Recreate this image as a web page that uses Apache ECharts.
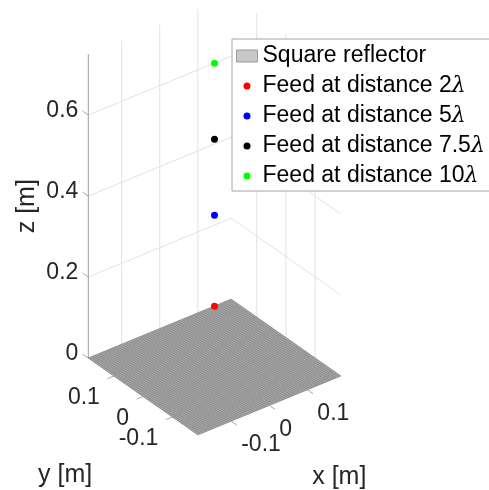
<!DOCTYPE html>
<html><head><meta charset="utf-8">
<script src="https://cdn.jsdelivr.net/npm/echarts@6/dist/echarts.min.js"></script>
<style>html,body{margin:0;padding:0;background:#fff}#c{width:489px;height:490px}</style>
</head><body><div id="c"></div>
<script>
// ---------------- data ----------------
const reflectorName = 'Square reflector';
const reflectorSide = 0.375;            // m (5 wavelengths at 4 GHz)
const xTicks = [-0.1, 0, 0.1];
const yTicks = [-0.1, 0, 0.1];
const zTicks = [0, 0.2, 0.4, 0.6];
const xTickLabels = ['-0.1', '0', '0.1'];
const yTickLabels = ['-0.1', '0', '0.1'];
const zTickLabels = ['0', '0.2', '0.4', '0.6'];
const zLimits = [0, 0.75];
const feedNames = ['Feed at distance 2λ', 'Feed at distance 5λ', 'Feed at distance 7.5λ', 'Feed at distance 10λ'];
const feedX = [0, 0, 0, 0];
const feedY = [0, 0, 0, 0];
const feedZ = [0.15, 0.375, 0.5625, 0.75];
const feedColors = ['#ff0000', '#0000ff', '#000000', '#00ff00'];
const axisTitles = ['x [m]', 'y [m]', 'z [m]'];

// ---------------- view / projection (layout) ----------------
const half = reflectorSide / 2;
const view = { az: -37.5, el: 32.5, cx: 214.5, cy: 367, S: 90, H: 303.75 };
const W = 489, Hh = 490;
function proj(x, y, z) {
  const u = x / half, v = y / half, w = (z - zLimits[0]) / (zLimits[1] - zLimits[0]);
  const a = view.az * Math.PI / 180, e = view.el * Math.PI / 180;
  const X = view.cx + view.S * (u * Math.cos(a) + v * Math.sin(a));
  const Y = view.cy - view.S * Math.sin(e) * (-u * Math.sin(a) + v * Math.cos(a)) - view.H * w;
  return [X, Y];
}
function dir(p0, p1) {
  const dx = p1[0] - p0[0], dy = p1[1] - p0[1], L = Math.hypot(dx, dy);
  return [dx / L, dy / L];
}
const FONT = 'Liberation Sans, Arial, Helvetica, sans-serif';
const tickColor = '#262626';

function renderScene(params, api) {
  const P = (x, y, z) => api.coord(proj(x, y, z));
  const z0 = zLimits[0], z1 = zLimits[1];
  const kids = [];
  const line = (a, b, style) => kids.push({ type: 'line', shape: { x1: a[0], y1: a[1], x2: b[0], y2: b[1] }, style: style, silent: true });
  const grid = { stroke: '#e2e2e2', lineWidth: 1 };
  // back wall y = +half
  xTicks.forEach(x => line(P(x, half, z0), P(x, half, z1), grid));
  zTicks.forEach(z => { if (z > z0) line(P(-half, half, z), P(half, half, z), grid); });
  // back wall x = +half
  yTicks.forEach(y => line(P(half, y, z0), P(half, y, z1), grid));
  zTicks.forEach(z => { if (z > z0) line(P(half, -half, z), P(half, half, z), grid); });
  // z axis line
  const axStyle = { stroke: '#9a9a9a', lineWidth: 1 };
  line(P(-half, half, z0), P(-half, half, z1), axStyle);
  // reflector plate
  const corners = [P(-half, -half, 0), P(half, -half, 0), P(half, half, 0), P(-half, half, 0)];
  kids.push({ type: 'polygon', shape: { points: corners }, style: { fill: '#b2b2b2', stroke: '#8a8a8a', lineWidth: 0.5 }, silent: true });
  const n = 64;
  const mesh = { stroke: '#727272', lineWidth: 0.45 };
  for (let i = 0; i <= n; i++) {
    const t = -half + reflectorSide * i / n;
    line(P(t, -half, 0), P(t, half, 0), mesh);
    line(P(-half, t, 0), P(half, t, 0), mesh);
  }
  // ticks
  const tickLen = 7;
  const dz = dir(P(-half, half, 0), P(-half, -half, 0)).map(v => -v); // +y direction
  const dxT = dir(P(-half, half, 0), P(-half, -half, 0));             // -y direction (toward viewer)
  const dyT = dir(P(half, -half, 0), P(-half, -half, 0));             // -x direction
  const tickStyle = { stroke: '#a8a8a8', lineWidth: 1 };
  const tf = '23px ' + FONT;
  zTicks.forEach((z, i) => {
    const b = P(-half, half, z);
    line(b, [b[0] + dz[0] * tickLen, b[1] + dz[1] * tickLen], tickStyle);
    kids.push({ type: 'text', x: b[0] - 10, y: b[1] - 4.5, silent: true,
      style: { text: zTickLabels[i], fill: tickColor, font: tf, align: 'right', verticalAlign: 'middle' } });
  });
  xTicks.forEach((x, i) => {
    const b = P(x, -half, 0);
    line(b, [b[0] + dxT[0] * tickLen, b[1] + dxT[1] * tickLen], tickStyle);
    kids.push({ type: 'text', x: b[0] + 10, y: b[1] + 24, silent: true,
      style: { text: xTickLabels[i], fill: tickColor, font: tf, align: 'left', verticalAlign: 'middle' } });
  });
  yTicks.forEach((y, i) => {
    const b = P(-half, y, 0);
    line(b, [b[0] + dyT[0] * tickLen, b[1] + dyT[1] * tickLen], tickStyle);
    kids.push({ type: 'text', x: b[0] - 14, y: b[1] + 22, silent: true,
      style: { text: yTickLabels[i], fill: tickColor, font: tf, align: 'right', verticalAlign: 'middle' } });
  });
  // axis titles
  const af = '25px ' + FONT;
  const xm = P(0, -half, 0), ym = P(-half, 0, 0), zm = P(-half, half, (z0 + z1) / 2);
  kids.push({ type: 'text', x: xm[0] + 70, y: xm[1] + 72, silent: true,
    style: { text: axisTitles[0], fill: tickColor, font: af, align: 'center', verticalAlign: 'middle' } });
  kids.push({ type: 'text', x: ym[0] - 78, y: ym[1] + 79, silent: true,
    style: { text: axisTitles[1], fill: tickColor, font: af, align: 'center', verticalAlign: 'middle' } });
  kids.push({ type: 'text', x: zm[0] - 61, y: zm[1], rotation: Math.PI / 2, silent: true,
    style: { text: axisTitles[2], fill: tickColor, font: af, align: 'center', verticalAlign: 'middle' } });
  return { type: 'group', children: kids };
}

const dotIcon = 'path://M0 0L0 0M42 24L42 24M28 12A7 7 0 1 1 14 12A7 7 0 1 1 28 12Z';

const series = [{
  type: 'custom', name: reflectorName, coordinateSystem: 'cartesian2d',
  renderItem: renderScene, data: [[0, 0]], z: 1, silent: true,
  itemStyle: { color: '#c8c8c8' }
}];
feedNames.forEach((name, i) => {
  series.push({
    type: 'scatter', name: name, coordinateSystem: 'cartesian2d', z: 5,
    symbolSize: 7, itemStyle: { color: feedColors[i], borderWidth: 0, opacity: 1 },
    data: [proj(feedX[i], feedY[i], feedZ[i])], silent: true
  });
});

const chart = echarts.init(document.getElementById('c'), null, { renderer: 'canvas' });
chart.setOption({
  animation: false,
  backgroundColor: '#ffffff',
  grid: { left: 0, right: 0, top: 0, bottom: 0 },
  xAxis: { type: 'value', min: 0, max: W, show: false },
  yAxis: { type: 'value', min: 0, max: Hh, inverse: true, show: false },
  legend: {
    orient: 'vertical', left: 232, top: 39,
    padding: [4, 6, 2, 4], itemGap: 4, itemWidth: 21, itemHeight: 12,
    backgroundColor: '#ffffff', borderColor: '#a6a6a6', borderWidth: 1, borderRadius: 0,
    selectedMode: false,
    textStyle: { fontFamily: FONT, fontSize: 23, color: '#000000', lineHeight: 26,
      rich: { l: { fontFamily: 'DejaVu Serif', fontStyle: 'italic', fontSize: 22, color: '#000000', lineHeight: 26 } } },
    formatter: name => name.replace('λ', '{l|λ}'),
    data: [{ name: reflectorName, icon: 'rect', itemStyle: { color: '#c8c8c8', borderColor: '#9a9a9a', borderWidth: 1 } }]
      .concat(feedNames.map((n, i) => ({ name: n, icon: dotIcon, itemStyle: { color: feedColors[i], borderWidth: 0, opacity: 1 } })))
  },
  series: series
});
</script></body></html>
